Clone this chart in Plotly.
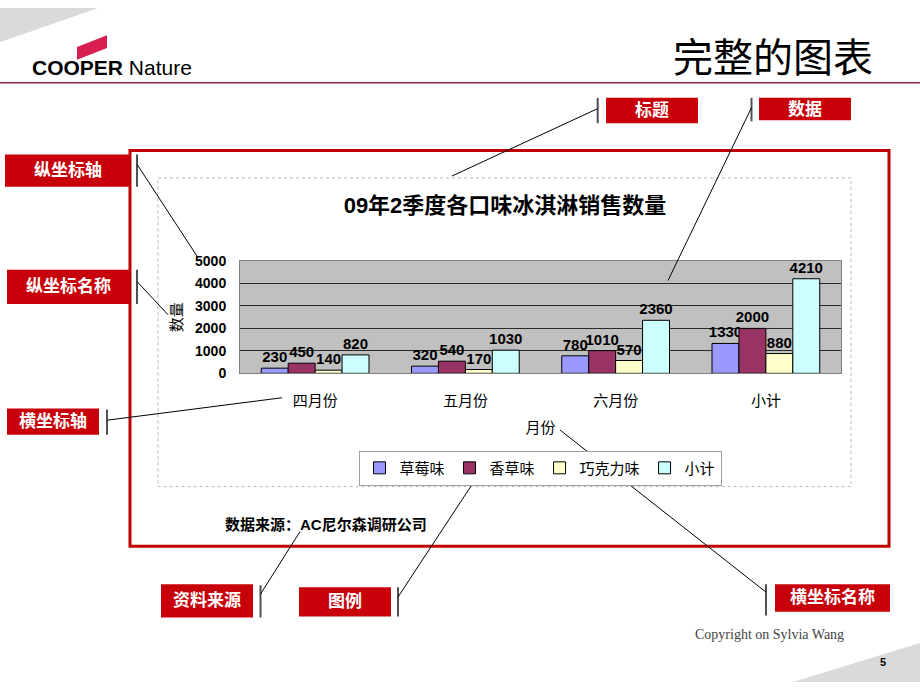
import plotly.graph_objects as go

W, H = 920, 690

# ---------------- data ----------------
categories = ["四月份", "五月份", "六月份", "小计"]
series_names = ["草莓味", "香草味", "巧克力味", "小计"]
strawberry = [230, 320, 780, 1330]
vanilla = [450, 540, 1010, 2000]
chocolate = [140, 170, 570, 880]
subtotal = [820, 1030, 2360, 4210]
series_values = [strawberry, vanilla, chocolate, subtotal]
series_colors = ["#9999FF", "#993366", "#FFFFCC", "#CCFFFF"]
y_ticks = [0, 1000, 2000, 3000, 4000, 5000]

chart_title = "09年2季度各口味冰淇淋销售数量"
slide_title = "完整的图表"
source_text = "数据来源：AC尼尔森调研公司"

CJK = "Liberation Sans, Noto Sans CJK SC, sans-serif"
NUM = "Liberation Sans, Arial, sans-serif"


def px(x):
    return x / W


def py(y):
    return 1 - y / H


fig = go.Figure()
for name, vals, col in zip(series_names, series_values, series_colors):
    fig.add_trace(go.Bar(
        name=name, x=categories, y=vals,
        marker=dict(color=col, line=dict(color="black", width=1)),
        texttemplate="%{y}", textposition="outside",
        textfont=dict(family=NUM, size=15, color="black", weight="bold"),
        constraintext="none", cliponaxis=False,
    ))

shapes = []
annotations = []


def line(x0, y0, x1, y1, color="black", width=1, dash=None):
    d = dict(type="line", xref="paper", yref="paper",
             x0=px(x0), y0=py(y0), x1=px(x1), y1=py(y1),
             line=dict(color=color, width=width))
    if dash:
        d["line"]["dash"] = dash
    shapes.append(d)


def rect(x0, y0, x1, y1, fill=None, lc=None, lw=0, dash=None):
    d = dict(type="rect", xref="paper", yref="paper",
             x0=px(x0), y0=py(y0), x1=px(x1), y1=py(y1),
             line=dict(color=lc or "rgba(0,0,0,0)", width=lw))
    if fill:
        d["fillcolor"] = fill
    if dash:
        d["line"]["dash"] = dash
    shapes.append(d)


def poly(points, fill):
    path = "M " + " L ".join(f"{px(x):.5f},{py(y):.5f}" for x, y in points) + " Z"
    shapes.append(dict(type="path", xref="paper", yref="paper", path=path,
                       fillcolor=fill, line=dict(width=0), layer="below"))


def text(x, y, s, size, color="black", family=CJK, bold=False,
         xanchor="center", yanchor="middle"):
    annotations.append(dict(
        x=px(x), y=py(y), xref="paper", yref="paper", text=s, showarrow=False,
        xanchor=xanchor, yanchor=yanchor,
        font=dict(family=family, size=size, color=color,
                  weight="bold" if bold else "normal")))


# corner decorations
poly([(0, 0), (98, 0), (0, 35)], "#DADADA")
poly([(793, 690), (920, 690), (920, 650)], "#DADADA")

# header
line(0, 76.5, 920, 76.5, color="#8C2A46", width=1.5)
poly([(77, 40), (107, 28), (107, 41), (77, 53)], "#D81E50")
text(30, 61, "<b>COOPER</b> Nature", 21, family=NUM, xanchor="left")
text(773, 48, slide_title, 40, family="Noto Sans CJK SC")

# frames
rect(130, 146, 889, 551, lc="#C00000", lw=3)
rect(158, 174, 851, 490, lc="#B8B8B8", lw=1, dash="dot")

# source text
text(223, 529, source_text, 15, bold=True, xanchor="left")

# callout boxes
callouts = [
    ("标题", (606, 92, 698, 118), 597.7, 92, 118, (597.7, 103), (452, 172)),
    ("数据", (759, 92, 851, 115), 751.5, 92, 116, (751.5, 102), (668, 279)),
    ("纵坐标轴", (5, 150, 130, 183), 137, 150, 183, (137, 160), (197, 254)),
    ("纵坐标名称", (7, 268, 130, 303), 137, 268, 303, (137, 280), (168, 314)),
    ("横坐标轴", (7, 410, 99, 437), 107, 411, 437, (107, 422), (282, 399)),
    ("资料来源", (161, 590, 253, 624), 260.5, 591, 624, (260.5, 600), (300, 536)),
    ("图例", (299, 593, 391, 623), 398, 593, 623, (398, 603), (479, 477)),
    ("横坐标名称", (775, 590, 890, 618), 766, 590, 622, (766, 598), (560, 432)),
]
for lab, (bx0, by0, bx1, by1), vx, vy0, vy1, p0, p1 in callouts:
    rect(bx0, by0, bx1, by1, fill="#C8000A")
    line(vx, vy0, vx, vy1, color="#505050", width=2)
    line(p0[0], p0[1], p1[0], p1[1], color="black", width=1)
    text((bx0 + bx1) / 2, (by0 + by1) / 2, lab, 17, color="white", bold=True)

# footer
text(769, 641, "Copyright on Sylvia Wang", 14, color="#444444",
     family="Liberation Serif, serif")
text(883, 670, "5", 11, bold=True, family=NUM)

fig.update_layout(
    width=W, height=H, autosize=False,
    margin=dict(l=0, r=0, t=0, b=0),
    paper_bgcolor="white", plot_bgcolor="#C0C0C0",
    barmode="group", bargap=0.283, bargroupgap=0,
    title=dict(text=chart_title, x=px(505), y=py(205), xref="container",
               yref="container", xanchor="center", yanchor="middle",
               font=dict(family=CJK, size=22, color="black", weight="bold")),
    xaxis=dict(domain=[px(240), px(841)], showgrid=False, showline=True,
               mirror=True, linecolor="#7F7F7F", linewidth=1,
               tickfont=dict(family=CJK, size=15, color="black"),
               ticklabelstandoff=14,
               title=dict(text="月份", standoff=14,
                          font=dict(family=CJK, size=15, color="black"))),
    yaxis=dict(domain=[py(374), py(259)], range=[0, 5000],
               tickvals=y_ticks, showgrid=True, gridcolor="#2A2A2A",
               gridwidth=1, zeroline=False, showline=True, mirror=True,
               linecolor="#7F7F7F", linewidth=1,
               tickfont=dict(family=NUM, size=14, color="black", weight="bold"),
               ticklabelstandoff=10,
               title=dict(text="数量", standoff=8,
                          font=dict(family=CJK, size=15, color="black"))),
    legend=dict(orientation="h", x=px(540), y=py(471), xanchor="center",
                yanchor="middle", bgcolor="white", bordercolor="#A0A0A0",
                borderwidth=1, font=dict(family=CJK, size=15, color="black"),
                traceorder="normal"),
    shapes=shapes, annotations=annotations,
)

fig.write_html("out.html")
